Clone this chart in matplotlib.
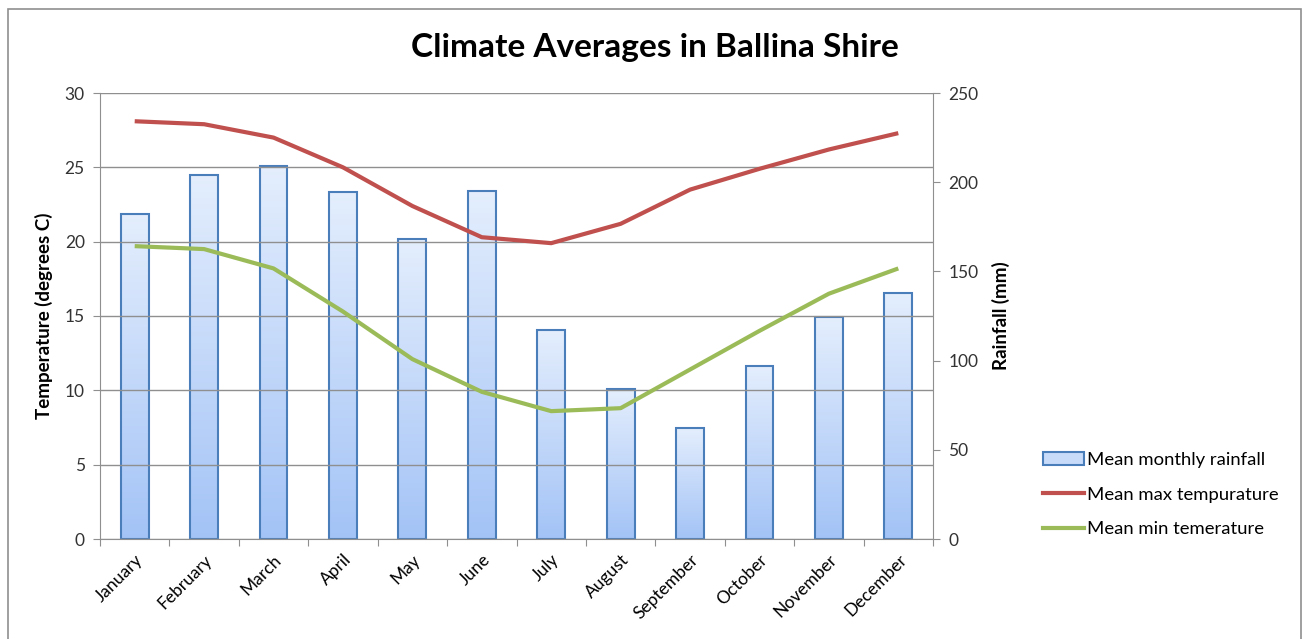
import matplotlib
matplotlib.use('Agg')
import matplotlib.pyplot as plt
import numpy as np
from matplotlib.colors import LinearSegmentedColormap
from matplotlib.patches import Rectangle, Patch
from matplotlib.lines import Line2D

months = ['January', 'February', 'March', 'April', 'May', 'June', 'July',
          'August', 'September', 'October', 'November', 'December']
rainfall = [182, 204, 209, 194.5, 168, 195, 117, 84, 62, 97, 124.5, 138]
max_temp = [28.1, 27.9, 27.0, 25.0, 22.4, 20.3, 19.9, 21.2, 23.5, 24.9, 26.2, 27.3]
min_temp = [19.7, 19.5, 18.2, 15.3, 12.1, 9.9, 8.6, 8.8, 11.4, 14.0, 16.5, 18.2]
temp_ticks = [0, 5, 10, 15, 20, 25, 30]
rain_ticks = [0, 50, 100, 150, 200, 250]

FONT = 'Lato'
plt.rcParams['font.family'] = [FONT, 'DejaVu Sans']

fig = plt.figure(figsize=(13.03, 6.39), dpi=100)
ax = fig.add_axes([100/1303, 100/639, 833/1303, 446/639])
ax2 = ax.twinx()

ax.set_zorder(2)
ax.patch.set_visible(False)
ax2.set_zorder(1)

x = np.arange(len(months))
bw = 0.4
cmap = LinearSegmentedColormap.from_list('g', ['#a3c3f6', '#e4eefd'])
grad = np.linspace(0, 1, 256).reshape(-1, 1)
bars = ax2.bar(x, rainfall, width=bw, facecolor='none', edgecolor='#4a7ebb',
               linewidth=1.5, zorder=3)
for b in bars:
    bx, by = b.get_x(), b.get_y()
    w, h = b.get_width(), b.get_height()
    im = ax2.imshow(grad, extent=[bx, bx + w, by, by + h], origin='lower',
                    cmap=cmap, aspect='auto', zorder=2)
    im.set_clip_path(b)

ax.plot(x, max_temp, color='#c0504d', linewidth=3, solid_capstyle='butt', zorder=5)
ax.plot(x, min_temp, color='#9bbb59', linewidth=3, solid_capstyle='butt', zorder=5)

ax.set_xlim(-0.5, len(months) - 0.5)
ax.set_ylim(0, 30)
ax2.set_ylim(0, 250)
ax2.set_xlim(-0.5, len(months) - 0.5)

ax.set_yticks(temp_ticks)
ax2.set_yticks(rain_ticks)
ax.yaxis.grid(True, color='#8f8f8f', linewidth=1)
ax.set_axisbelow(True)

ax.set_xticks(np.arange(-0.5, len(months) + 0.5, 1))
ax.set_xticklabels([])
ax.set_xticks(x, minor=True)
ax.set_xticklabels(months, minor=True, rotation=45, ha='right',
                   rotation_mode='anchor', fontsize=12.5, color='#000000')
ax.tick_params(axis='x', which='minor', length=0, pad=9)
ax.tick_params(axis='x', which='major', length=5, color='#8f8f8f', direction='out')
ax2.tick_params(axis='x', which='both', length=0, labelbottom=False)

ax.tick_params(axis='y', length=5, color='#8f8f8f', labelsize=12.5, labelcolor='#333333', pad=6)
ax2.tick_params(axis='y', length=5, color='#8f8f8f', labelsize=12.5, labelcolor='#333333', pad=6)

for a in (ax, ax2):
    for s in a.spines.values():
        s.set_visible(False)
ax.spines['left'].set_visible(True)
ax.spines['left'].set_color('#8f8f8f')
ax.spines['bottom'].set_visible(True)
ax.spines['bottom'].set_color('#8f8f8f')
ax2.spines['right'].set_visible(True)
ax2.spines['right'].set_color('#8f8f8f')

ax.set_ylabel('Temperature (degrees C)', fontsize=13.5, fontweight='bold', labelpad=8)
ax2.set_ylabel('Rainfall (mm)', fontsize=13.5, fontweight='bold', labelpad=10)

fig.text(655/1303, 1 - 48/639, 'Climate Averages in Ballina Shire', ha='center',
         va='center', fontsize=24, fontweight='bold')

handles = [Patch(facecolor='#c8dcfa', edgecolor='#4a7ebb', linewidth=1.5),
           Line2D([], [], color='#c0504d', linewidth=3),
           Line2D([], [], color='#9bbb59', linewidth=3)]
labels = ['Mean monthly rainfall', 'Mean max tempurature', 'Mean min temerature']
fig.legend(handles, labels, loc='upper left', bbox_to_anchor=(1036/1303, 1 - 445/639),
           frameon=False, fontsize=13.3, handlelength=2.2, handletextpad=0.15,
           labelspacing=1.0, borderaxespad=0)

fig.add_artist(Rectangle((8/1303, -0.05), 1293/1303, 1.05 - 9/639, transform=fig.transFigure,
                         fill=False, edgecolor='#8f8f8f', linewidth=1.2))

fig.savefig('out.png', dpi=100)
